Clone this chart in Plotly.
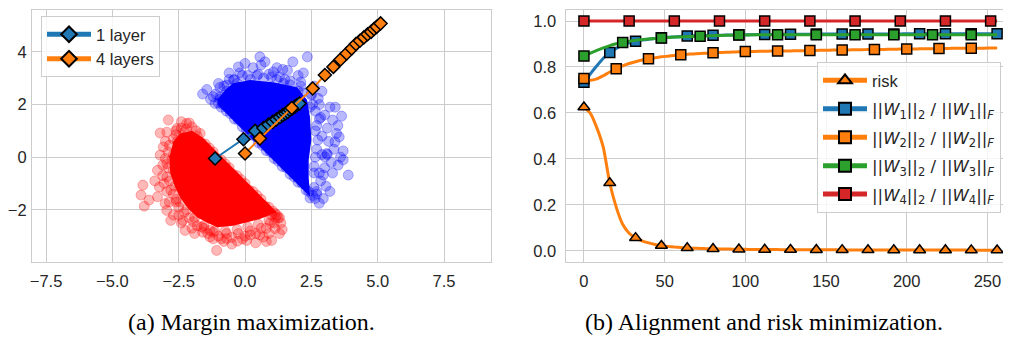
import plotly.graph_objects as go

W, H = 1011, 344          # target window size
OFF = 8                   # default page margin of the html body

# ---------------- (a) margin maximization: data ----------------
RED_CORE = [(-1.6, 0.75), (-2.0, 1.0), (-2.45, 0.9), (-2.7, 0.6), (-2.85, 0.0), (-2.82, -0.6),
            (-2.65, -1.1), (-2.45, -1.52), (-2.15, -1.95), (-1.81, -2.28), (-1.4, -2.5), (-1.05, -2.66),
            (-0.45, -2.6), (0.1, -2.45), (0.56, -2.35), (1.2, -2.09)]
RED_PTS = [(-3.2, 0.08), (-3.85, -1.06), (-3.92, -1.44), (-3.62, -1.63), (-3.8, -1.86), (-3.23, -1.13),
           (-3.01, -1.76), (-2.95, -2.02), (-2.7, -2.2), (-2.26, -2.78), (-1.07, -3.54), (-1.63, -2.65),
           (-1.32, -2.78), (-0.69, -3.09), (-0.29, -3.19), (0.06, -3.16), (0.69, -3.03), (1.0, -3.16),
           (1.13, -2.71), (1.13, -2.14), (-2.89, 1.41), (-3.2, 0.92), (-2.57, 1.09), (-2.2, 1.28),
           (-1.69, 0.9), (-3.08, 0.39), (-1.32, -3.03),
           (-1.8, 0.8), (-1.5, 0.5), (-1.2, 0.2), (-0.9, -0.1), (-0.6, -0.4), (-0.3, -0.7), (0.0, -1.0),
           (0.3, -1.3), (0.6, -1.6), (0.9, -1.9), (1.2, -2.2), (-1.65, 0.55), (-1.05, -0.05),
           (-0.45, -0.65), (0.15, -1.25), (0.75, -1.85),
           (-2.4, 1.1), (-2.7, 0.7), (-2.9, 0.2), (-2.9, -0.4), (-2.85, -0.9), (-2.7, -1.4), (-2.5, -1.9),
           (-2.1, -2.3), (-1.8, -2.6), (-1.4, -2.9), (-1.0, -3.0), (-0.5, -3.05), (0.0, -3.0), (0.4, -2.9),
           (0.8, -2.7), (1.1, -2.5), (1.3, -2.3), (-2.0, 1.15), (-2.75, -0.1), (-2.6, -1.6), (-1.2, -3.1),
           (0.2, -2.95), (0.9, -2.9), (-3.1, -0.3), (-3.1, -0.7), (-2.95, -1.3), (-2.5, -2.2),
           (-0.8, -3.2), (1.3, -2.9), (1.35, -2.5), (1.0, -2.2),
           (-2.3, 0.95), (-2.55, 0.6), (-2.7, 0.1), (-2.7, -0.5), (-2.65, -1.1), (-2.45, -1.7), (-2.2, -2.0),
           (-1.9, -2.3), (-1.55, -2.6), (-1.15, -2.8), (-0.7, -2.9), (-0.25, -2.9), (0.2, -2.8), (0.6, -2.7),
           (0.95, -2.5), (1.15, -2.3), (-1.85, 1.0), (-1.35, 0.35), (-0.75, -0.25), (-0.15, -0.85),
           (0.45, -1.45), (1.05, -2.05), (-2.1, 1.3), (-2.6, 1.0), (-3.0, 0.6), (-3.3, -0.5), (-3.4, -0.9),
           (-3.3, -1.5), (-2.8, -2.4), (-2.0, -2.7), (-1.9, -2.9), (-0.5, -3.3), (0.4, -3.25), (1.4, -2.75),
           (0.8, -3.2), (-2.4, -2.5), (-3.0, -0.05), (-3.05, -1.0), (-2.85, -1.7), (-2.35, -2.4),
           (-1.6, -2.85), (-0.9, -3.1), (-0.1, -3.1), (0.55, -2.95), (-2.95, 0.95), (-2.4, 1.35),
           (-2.2, 1.08), (-2.6, 0.85), (-2.85, 0.45), (-2.95, -0.25), (-2.95, -0.75), (-2.8, -1.25),
           (-2.6, -1.7), (-2.3, -2.1), (-1.95, -2.45), (-1.55, -2.7), (-1.2, -2.85), (-0.75, -2.8),
           (-0.3, -2.75), (0.1, -2.65), (0.5, -2.55), (0.9, -2.4), (1.25, -2.3)]
BLUE_CORE = [(-1.0, 1.95), (-1.05, 2.17), (-0.75, 2.55), (-0.45, 2.81), (0.19, 2.93), (1.05, 2.85),
             (1.96, 2.66), (2.34, 2.17), (2.45, 1.52), (2.5, 0.65), (2.4, -0.1), (2.4, -0.8),
             (2.45, -1.5)]
BLUE_PTS = [(-1.44, 2.57), (-0.25, 3.43), (0.0, 3.56), (0.56, 3.81), (0.75, 3.62), (1.07, 3.24),
            (1.42, 3.33), (1.8, 3.62), (2.35, 3.81), (2.76, 2.23), (2.85, 1.51), (3.3, 1.41), (3.64, 1.56),
            (3.45, 0.9), (3.55, 0.77), (3.39, 0.58), (3.7, 0.24), (3.08, 0.14), (-0.44, 2.93),
            (-0.69, 2.74), (-0.94, 2.29), (-1.13, 2.04), (3.51, -0.3), (3.89, -0.68), (2.95, -0.68),
            (2.64, -1.57), (2.95, -1.57), (3.01, 0.01),
            (-1.0, 2.05), (-0.7, 1.75), (-0.4, 1.45), (-0.1, 1.15), (0.2, 0.85), (0.5, 0.55), (0.8, 0.25),
            (1.1, -0.05), (1.4, -0.35), (1.7, -0.65), (2.0, -0.95), (2.3, -1.25), (2.55, -1.45),
            (-0.85, 2.0), (-0.25, 1.4), (0.35, 0.8), (0.95, 0.2), (1.55, -0.4), (2.15, -1.0),
            (-1.1, 2.4), (-0.8, 2.7), (-0.4, 2.95), (0.1, 3.1), (0.5, 3.15), (0.9, 3.15), (1.3, 3.05),
            (1.7, 2.9), (2.1, 2.7), (2.5, 2.4), (2.8, 2.0), (3.0, 1.6), (3.1, 1.1), (3.15, 0.6),
            (3.1, 0.1), (3.0, -0.4), (2.85, -0.9), (2.7, -1.3), (2.45, -1.55), (0.3, 3.4), (1.2, 3.4),
            (2.0, 3.1), (2.6, 2.7), (3.2, 1.9), (3.35, 0.3), (3.25, -0.2), (3.05, -1.1), (-0.2, 3.2),
            (-1.3, 2.2),
            (-0.95, 2.2), (-0.7, 2.5), (-0.3, 2.8), (0.2, 2.95), (0.7, 3.0), (1.2, 2.95), (1.7, 2.75),
            (2.15, 2.45), (2.55, 2.0), (2.8, 1.45), (2.9, 0.8), (2.9, 0.1), (2.8, -0.6), (2.6, -1.15),
            (-0.55, 1.65), (0.05, 1.05), (0.65, 0.45), (1.25, -0.15), (1.85, -0.75), (2.4, -1.3),
            (-0.9, 1.9), (-1.6, 2.4), (-1.0, 2.8), (-0.6, 3.2), (0.6, 3.5), (1.6, 3.3), (2.2, 3.2),
            (2.9, 2.5), (3.4, 1.9), (3.5, 1.2), (3.6, 0.0), (3.3, -0.6), (3.2, -1.3), (2.8, -1.75),
            (3.7, -0.1), (2.65, 1.0), (2.7, 0.3), (2.6, -0.35), (2.45, 1.9), (2.0, 2.5), (1.45, 2.8),
            (-1.2, 2.3), (-0.95, 2.65), (-0.6, 2.95), (-0.1, 3.1), (0.45, 3.1), (1.0, 3.05), (1.5, 2.95),
            (2.1, 2.85), (2.5, 2.35), (2.65, 1.75), (2.7, 1.2), (2.75, 0.65), (2.65, 0.0), (2.6, -0.6),
            (2.7, -1.4)]
ONE_LAYER = [(-1.13, -0.05), (-0.06, 0.68), (0.38, 1.00), (0.69, 1.11), (0.88, 1.24), (1.04, 1.34),
             (1.18, 1.43), (1.31, 1.52), (1.42, 1.60), (1.52, 1.66), (1.61, 1.72), (1.69, 1.79),
             (1.78, 1.85), (1.87, 1.91), (1.96, 1.98), (2.05, 2.04)]
FOUR_LAYERS = [(0.0, 0.14), (0.56, 0.71), (1.76, 1.87), (2.55, 2.61), (3.01, 3.12), (3.33, 3.43),
               (3.60, 3.71), (3.83, 3.94), (4.02, 4.13), (4.18, 4.30), (4.33, 4.42), (4.48, 4.55),
               (4.62, 4.67), (4.75, 4.76), (4.86, 4.87), (4.96, 4.95), (5.11, 5.08)]
LEFT_XTICKS = [-7.5, -5.0, -2.5, 0.0, 2.5, 5.0, 7.5]
LEFT_XTEXT = ["\u22127.5", "\u22125.0", "\u22122.5", "0.0", "2.5", "5.0", "7.5"]
LEFT_YTICKS = [-2, 0, 2, 4]
LEFT_YTEXT = ["\u22122", "0", "2", "4"]

# ---------------- (b) alignment and risk minimization ----------------
STEPS = list(range(0, 257, 4))
RISK = [0.625, 0.598, 0.535, 0.45, 0.295, 0.19, 0.115, 0.076, 0.056, 0.043, 0.034, 0.027, 0.022,
        0.019, 0.016, 0.014, 0.012, 0.011, 0.010, 0.0092, 0.0085, 0.0079, 0.0074, 0.0069, 0.0065,
        0.0061, 0.0058, 0.0055, 0.0053, 0.0051, 0.0049, 0.0047, 0.0046, 0.0044, 0.0043, 0.0042,
        0.0041, 0.0040, 0.0039, 0.0038, 0.0037, 0.0036, 0.0035, 0.0035, 0.0034, 0.0033, 0.0033,
        0.0032, 0.0032, 0.0031, 0.0031, 0.0030, 0.0030, 0.0029, 0.0029, 0.0028, 0.0028, 0.0028,
        0.0027, 0.0027, 0.0026, 0.0026, 0.0026, 0.0025, 0.0025]
W1 = [0.733, 0.770, 0.805, 0.838, 0.863, 0.881, 0.895, 0.905, 0.912, 0.917, 0.921, 0.924, 0.927,
      0.929, 0.931, 0.933, 0.935, 0.936, 0.937, 0.937, 0.938, 0.938, 0.939, 0.939, 0.940, 0.940,
      0.940, 0.941, 0.941, 0.941, 0.941, 0.942, 0.942, 0.942, 0.942, 0.942, 0.943, 0.943, 0.943,
      0.943, 0.943, 0.943, 0.944, 0.944, 0.944, 0.944, 0.944, 0.944, 0.944, 0.944, 0.945, 0.945,
      0.945, 0.945, 0.945, 0.945, 0.945, 0.945, 0.945, 0.945, 0.945, 0.945, 0.945, 0.945, 0.945]
W2 = [0.750, 0.742, 0.748, 0.762, 0.778, 0.792, 0.805, 0.815, 0.823, 0.830, 0.836, 0.840, 0.844,
      0.847, 0.850, 0.853, 0.855, 0.857, 0.859, 0.860, 0.862, 0.863, 0.864, 0.865, 0.866, 0.867,
      0.867, 0.868, 0.868, 0.869, 0.869, 0.870, 0.870, 0.871, 0.871, 0.872, 0.872, 0.873, 0.873,
      0.874, 0.874, 0.874, 0.875, 0.875, 0.876, 0.876, 0.876, 0.877, 0.877, 0.878, 0.878, 0.878,
      0.879, 0.879, 0.879, 0.880, 0.880, 0.881, 0.881, 0.881, 0.882, 0.882, 0.882, 0.883, 0.883]
W3 = [0.848, 0.860, 0.872, 0.883, 0.893, 0.901, 0.907, 0.912, 0.916, 0.919, 0.922, 0.924, 0.926,
      0.928, 0.930, 0.931, 0.932, 0.933, 0.934, 0.935, 0.936, 0.937, 0.938, 0.938, 0.939, 0.939,
      0.940, 0.940, 0.940, 0.940, 0.940, 0.940, 0.940, 0.940, 0.940, 0.940, 0.940, 0.940, 0.940,
      0.940, 0.940, 0.940, 0.940, 0.940, 0.940, 0.940, 0.940, 0.940, 0.940, 0.940, 0.940, 0.940,
      0.940, 0.940, 0.940, 0.940, 0.940, 0.940, 0.940, 0.940, 0.940, 0.940, 0.940, 0.940, 0.940]
W4 = [1.0] * len(STEPS)
RIGHT_XTICKS = [0, 50, 100, 150, 200, 250]
RIGHT_YTICKS = [0.0, 0.2, 0.4, 0.6, 0.8, 1.0]

SERIES = [
    ("risk", RISK, "#ff7f0e", "triangle-up", 16),
    ("||<i>W</i><sub>1</sub>||<sub>2</sub> / ||<i>W</i><sub>1</sub>||<sub><i>F</i></sub>", W1, "#1f77b4", "square", 16),
    ("||<i>W</i><sub>2</sub>||<sub>2</sub> / ||<i>W</i><sub>2</sub>||<sub><i>F</i></sub>", W2, "#ff7f0e", "square", 20),
    ("||<i>W</i><sub>3</sub>||<sub>2</sub> / ||<i>W</i><sub>3</sub>||<sub><i>F</i></sub>", W3, "#2ca02c", "square", 24),
    ("||<i>W</i><sub>4</sub>||<sub>2</sub> / ||<i>W</i><sub>4</sub>||<sub><i>F</i></sub>", W4, "#d62728", "square", 28),
]

CAPTION_A = "(a) Margin maximization."
CAPTION_B = "(b) Alignment and risk minimization."

# ---------------- layout geometry (window pixels) ----------------
FW, FH = W - OFF, H - OFF
LEFT_PX, RIGHT_PX, TOP_PX, BOT_PX = 32, 1010, 10, 261.7
ML, MT = LEFT_PX - OFF, TOP_PX - OFF
MR, MB = FW - (RIGHT_PX - OFF), FH - (BOT_PX - OFF)
PW, PH = FW - ML - MR, FH - MT - MB


def fx(px):
    return (px - LEFT_PX) / PW


def fy(py):
    return (BOT_PX - py) / PH


fig = go.Figure()


def xs(pts):
    return [p[0] for p in pts]


def ys(pts):
    return [p[1] for p in pts]


for core, pts, solid, trans in [(RED_CORE, RED_PTS, "#ff0000", "rgba(255,0,0,0.28)"),
                                (BLUE_CORE, BLUE_PTS, "#0000ff", "rgba(0,0,255,0.28)")]:
    fig.add_trace(go.Scatter(x=xs(core) + [core[0][0]], y=ys(core) + [core[0][1]], mode="lines",
                             fill="toself", fillcolor=solid, line=dict(width=0, color=solid),
                             showlegend=False, hoverinfo="skip", xaxis="x", yaxis="y"))
    fig.add_trace(go.Scatter(x=xs(pts), y=ys(pts), mode="markers",
                             marker=dict(size=10, color=trans, line=dict(width=1, color=trans)),
                             showlegend=False, hoverinfo="skip", xaxis="x", yaxis="y"))

for name, pts, col in [("1 layer", ONE_LAYER, "#1f77b4"), ("4 layers", FOUR_LAYERS, "#ff7f0e")]:
    fig.add_trace(go.Scatter(x=xs(pts), y=ys(pts), mode="lines+markers", name=name,
                             line=dict(color=col, width=2),
                             marker=dict(symbol="diamond", size=10, color=col,
                                         line=dict(color="black", width=1.5)),
                             legend="legend", legendgroup=name, xaxis="x", yaxis="y"))

for name, vals, col, sym, every in SERIES:
    fig.add_trace(go.Scatter(x=STEPS, y=vals, mode="lines",
                             line=dict(color=col, width=3, shape="spline", smoothing=0.6),
                             showlegend=False, hoverinfo="skip", xaxis="x2", yaxis="y2"))
    mx = [s for s in STEPS if s % every == 0]
    my = [v for s, v in zip(STEPS, vals) if s % every == 0]
    fig.add_trace(go.Scatter(x=mx, y=my, mode="markers",
                             marker=dict(symbol=sym, size=10 if sym == "square" else 10.5, color=col,
                                         line=dict(color="black", width=1.5)),
                             showlegend=False, hoverinfo="skip", xaxis="x2", yaxis="y2"))
for name, vals, col, sym, every in SERIES:
    label = name if name == "risk" else '<span style="font-family:DejaVu Sans">' + name + "</span>"
    fig.add_trace(go.Scatter(x=[None], y=[None], mode="lines+markers", name=label,
                             line=dict(color=col, width=3),
                             marker=dict(symbol=sym, size=10, color=col, line=dict(color="black", width=1.5)),
                             legend="legend2", legendgroup=name, xaxis="x2", yaxis="y2"))

GRID = "#cccccc"
TICKFONT = dict(family="Liberation Sans, Arial, sans-serif", size=16.5, color="#262626")
common = dict(showgrid=True, gridcolor=GRID, gridwidth=1, zeroline=False, showline=True,
              linecolor=GRID, linewidth=1.25, mirror=True, ticks="", tickfont=TICKFONT,
              automargin=False)
LEGFONT = dict(family="Liberation Sans, Arial, sans-serif", size=16.5, color="#262626")

fig.update_layout(
    width=FW, height=FH, autosize=False,
    margin=dict(l=ML, r=MR, t=MT, b=MB, pad=0),
    paper_bgcolor="white", plot_bgcolor="white",
    xaxis=dict(domain=[fx(32), fx(490.7)], range=[-8.03, 9.26], tickvals=LEFT_XTICKS,
               ticktext=LEFT_XTEXT, anchor="y", ticklabelstandoff=4, **common),
    yaxis=dict(domain=[0, 1], range=[-3.98, 5.59], tickvals=LEFT_YTICKS,
               ticktext=LEFT_YTEXT, anchor="x", ticklabelstandoff=1, **common),
    xaxis2=dict(domain=[fx(565.7), 1], range=[-11.3, 264], tickvals=RIGHT_XTICKS,
                anchor="y2", ticklabelstandoff=4, **common),
    yaxis2=dict(domain=[0, 1], range=[-0.049, 1.048], tickvals=RIGHT_YTICKS,
                tickformat=".1f", anchor="x2", ticklabelstandoff=5, **common),
    legend=dict(x=fx(41), y=fy(16), xanchor="left", yanchor="top",
                bgcolor="rgba(255,255,255,0.8)", bordercolor=GRID, borderwidth=1,
                font=LEGFONT, tracegroupgap=0, itemsizing="constant", itemwidth=44),
    legend2=dict(x=fx(817), y=fy(62), xanchor="left", yanchor="top",
                 bgcolor="rgba(255,255,255,0.8)", bordercolor=GRID, borderwidth=1,
                 font=LEGFONT, tracegroupgap=4, itemsizing="constant", itemwidth=44),
    annotations=[
        dict(text=CAPTION_A, x=fx(251), y=fy(322), xref="paper", yref="paper",
             showarrow=False, xanchor="center", yanchor="middle",
             font=dict(family="Liberation Serif, Times New Roman, serif", size=24, color="black")),
        dict(text=CAPTION_B, x=fx(764), y=fy(322), xref="paper", yref="paper",
             showarrow=False, xanchor="center", yanchor="middle",
             font=dict(family="Liberation Serif, Times New Roman, serif", size=24, color="black")),
    ],
)

fig.write_html("out.html")
